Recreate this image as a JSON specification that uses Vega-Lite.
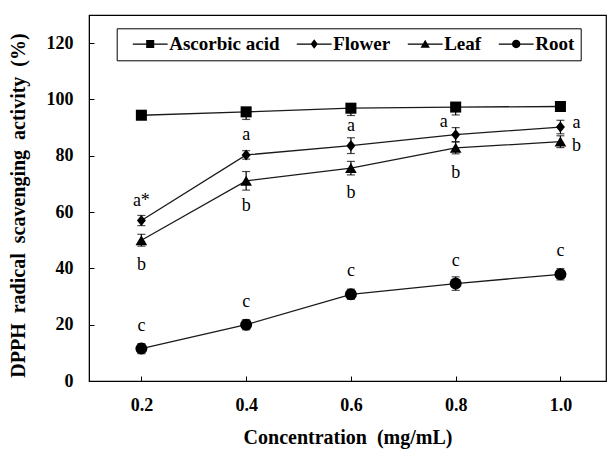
{
  "$schema": "https://vega.github.io/schema/vega-lite/v6.json",
  "width": 517,
  "height": 366,
  "autosize": {"type": "none"},
  "padding": {"left": 89, "top": 15, "right": 3, "bottom": 68},
  "background": "white",
  "config": {
    "view": {"stroke": "black", "strokeWidth": 1.2},
    "font": "Liberation Serif"
  },
  "data": {
    "values": [
      {"conc": 0.2, "series": "Ascorbic acid", "value": 94.4, "errUp": 0, "errDown": -0.8, "letter": null},
      {"conc": 0.4, "series": "Ascorbic acid", "value": 95.6, "errUp": 0, "errDown": -2.7, "letter": null},
      {"conc": 0.6, "series": "Ascorbic acid", "value": 96.9, "errUp": 0, "errDown": -2.6, "letter": null},
      {"conc": 0.8, "series": "Ascorbic acid", "value": 97.3, "errUp": 0, "errDown": -2.8, "letter": null},
      {"conc": 1.0, "series": "Ascorbic acid", "value": 97.5, "errUp": 0, "errDown": -1.0, "letter": null},
      {"conc": 0.2, "series": "Flower", "value": 57.0, "errUp": 1.8, "errDown": -1.8, "letter": "a*"},
      {"conc": 0.4, "series": "Flower", "value": 80.3, "errUp": 1.5, "errDown": -1.5, "letter": "a"},
      {"conc": 0.6, "series": "Flower", "value": 83.6, "errUp": 2.8, "errDown": -2.8, "letter": "a"},
      {"conc": 0.8, "series": "Flower", "value": 87.5, "errUp": 2.5, "errDown": -2.5, "letter": "a"},
      {"conc": 1.0, "series": "Flower", "value": 90.2, "errUp": 2.4, "errDown": -2.4, "letter": "a"},
      {"conc": 0.2, "series": "Leaf", "value": 50.0, "errUp": 2.1, "errDown": -2.1, "letter": "b"},
      {"conc": 0.4, "series": "Leaf", "value": 71.1, "errUp": 3.3, "errDown": -3.3, "letter": "b"},
      {"conc": 0.6, "series": "Leaf", "value": 75.6, "errUp": 2.4, "errDown": -2.4, "letter": "b"},
      {"conc": 0.8, "series": "Leaf", "value": 82.8, "errUp": 2.1, "errDown": -2.1, "letter": "b"},
      {"conc": 1.0, "series": "Leaf", "value": 85.0, "errUp": 2.1, "errDown": -2.1, "letter": "b"},
      {"conc": 0.2, "series": "Root", "value": 11.5, "errUp": 1.8, "errDown": -1.8, "letter": "c"},
      {"conc": 0.4, "series": "Root", "value": 20.0, "errUp": 1.8, "errDown": -1.8, "letter": "c"},
      {"conc": 0.6, "series": "Root", "value": 30.8, "errUp": 1.8, "errDown": -1.8, "letter": "c"},
      {"conc": 0.8, "series": "Root", "value": 34.6, "errUp": 2.4, "errDown": -2.4, "letter": "c"},
      {"conc": 1.0, "series": "Root", "value": 37.9, "errUp": 2.0, "errDown": -2.0, "letter": "c"}
    ]
  },
  "encoding": {
    "x": {
      "field": "conc",
      "type": "quantitative",
      "scale": {"domain": [0.1, 1.087], "nice": false, "zero": false},
      "axis": {
        "values": [0.2, 0.4, 0.6, 0.8, 1.0],
        "format": ".1f",
        "grid": false,
        "domainColor": "black",
        "tickColor": "black",
        "tickSize": -5,
        "labelPadding": 20,
        "labelFont": "Liberation Serif",
        "labelFontWeight": "bold",
        "labelFontSize": 18,
        "labelColor": "black",
        "title": "Concentration\u00a0 (mg/mL)",
        "titleFont": "Liberation Serif",
        "titleFontWeight": "bold",
        "titleFontSize": 20,
        "titleColor": "black",
        "titlePadding": 13
      }
    },
    "y": {
      "field": "value",
      "type": "quantitative",
      "scale": {"domain": [0, 130], "nice": false},
      "axis": {
        "values": [0, 20, 40, 60, 80, 100, 120],
        "grid": false,
        "domainColor": "black",
        "tickColor": "black",
        "tickSize": -5,
        "labelPadding": 21,
        "labelFont": "Liberation Serif",
        "labelFontWeight": "bold",
        "labelFontSize": 18,
        "labelColor": "black",
        "title": "DPPH\u00a0 radical\u00a0 scavenging\u00a0 activity\u00a0 (%)",
        "titleFont": "Liberation Serif",
        "titleFontWeight": "bold",
        "titleFontSize": 20,
        "titleColor": "black",
        "titlePadding": 18,
        "titleY": 190
      }
    }
  },
  "layer": [
    {
      "mark": {"type": "line", "color": "#1a1a1a", "strokeWidth": 1.3},
      "encoding": {"detail": {"field": "series"}}
    },
    {
      "mark": {"type": "errorbar", "color": "black", "thickness": 1.2, "ticks": {"size": 8, "color": "black", "thickness": 1.2}},
      "encoding": {
        "yError": {"field": "errUp"},
        "yError2": {"field": "errDown"},
        "detail": {"field": "series"}
      }
    },
    {
      "mark": {"type": "point", "filled": true, "color": "black", "opacity": 1, "size": 144},
      "encoding": {
        "shape": {
          "field": "series",
          "type": "nominal",
          "scale": {
            "domain": ["Ascorbic acid", "Flower", "Leaf", "Root"],
            "range": [
              "M-0.92,-0.92H0.92V0.92H-0.92Z",
              "M0,-0.92L0.75,0L0,0.92L-0.75,0Z",
              "M0,-0.85L0.97,0.82L-0.97,0.82Z",
              "circle"
            ]
          },
          "legend": null
        }
      }
    },
    {
      "mark": {"type": "point", "filled": true, "color": "black", "opacity": 0, "size": 144},
      "encoding": {
        "shape": {
          "field": "series",
          "type": "nominal",
          "scale": {
            "domain": ["Ascorbic acid", "Flower", "Leaf", "Root"],
            "range": [
              "M-2.9,-0.11H2.9V0.11H-2.9ZM-0.67,-0.67H0.67V0.67H-0.67Z",
              "M-2.9,-0.11H2.9V0.11H-2.9ZM0,-0.8L0.6,0L0,0.8L-0.6,0Z",
              "M-2.9,-0.11H2.9V0.11H-2.9ZM0,-0.72L0.78,0.62L-0.78,0.62Z",
              "M-2.9,-0.11H2.9V0.11H-2.9ZM0.7,0A0.7,0.7,0,1,1,-0.7,0A0.7,0.7,0,1,1,0.7,0Z"
            ]
          },
          "legend": {
            "title": null,
            "orient": "none",
            "legendX": 27.7,
            "legendY": 13.3,
            "direction": "horizontal",
            "columns": 4,
            "columnPadding": 7,
            "padding": 6,
            "strokeColor": "black",
            "fillColor": "white",
            "symbolSize": 144,
            "symbolOffset": 18,
            "labelOffset": 9.5,
            "symbolOpacity": 1,
            "symbolFillColor": "black",
            "labelFont": "Liberation Serif",
            "labelFontWeight": "bold",
            "labelFontSize": 19,
            "labelColor": "black",
            "labelLimit": 0
          }
        }
      }
    },
    {
      "transform": [{"filter": "datum.series == 'Flower' && datum.conc < 0.7"}],
      "mark": {"type": "text", "font": "Liberation Serif", "fontSize": 18, "color": "black", "baseline": "middle", "align": "center", "dy": -20},
      "encoding": {"text": {"field": "letter"}}
    },
    {
      "transform": [{"filter": "datum.series == 'Flower' && datum.conc > 0.7 && datum.conc < 0.9"}],
      "mark": {"type": "text", "font": "Liberation Serif", "fontSize": 18, "color": "black", "baseline": "middle", "align": "center", "dx": -12, "dy": -13},
      "encoding": {"text": {"field": "letter"}}
    },
    {
      "transform": [{"filter": "datum.series == 'Flower' && datum.conc > 0.9"}],
      "mark": {"type": "text", "font": "Liberation Serif", "fontSize": 18, "color": "black", "baseline": "middle", "align": "center", "dx": 16, "dy": -4},
      "encoding": {"text": {"field": "letter"}}
    },
    {
      "transform": [{"filter": "datum.series == 'Leaf' && datum.conc < 0.9"}],
      "mark": {"type": "text", "font": "Liberation Serif", "fontSize": 18, "color": "black", "baseline": "middle", "align": "center", "dy": 25},
      "encoding": {"text": {"field": "letter"}}
    },
    {
      "transform": [{"filter": "datum.series == 'Leaf' && datum.conc > 0.9"}],
      "mark": {"type": "text", "font": "Liberation Serif", "fontSize": 18, "color": "black", "baseline": "middle", "align": "center", "dx": 16, "dy": 4},
      "encoding": {"text": {"field": "letter"}}
    },
    {
      "transform": [{"filter": "datum.series == 'Root'"}],
      "mark": {"type": "text", "font": "Liberation Serif", "fontSize": 18, "color": "black", "baseline": "middle", "align": "center", "dy": -23},
      "encoding": {"text": {"field": "letter"}}
    }
  ],
  "resolve": {"scale": {"shape": "independent"}}
}
